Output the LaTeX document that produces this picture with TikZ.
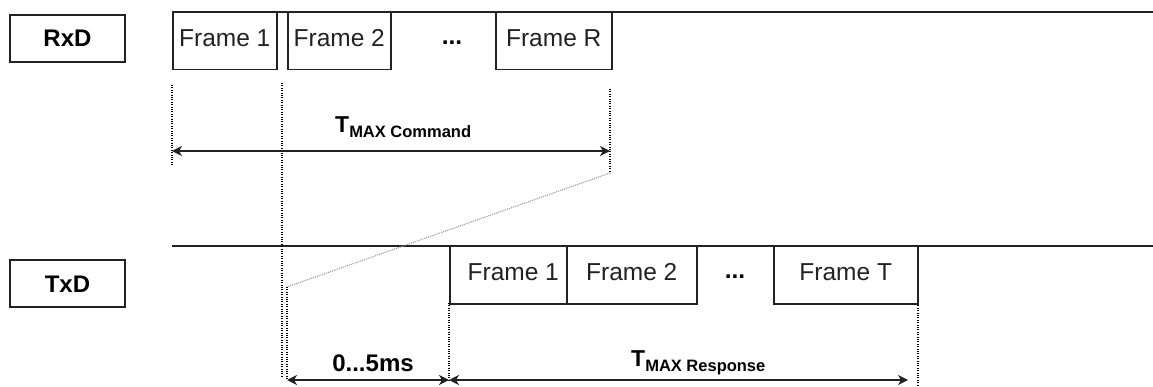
\documentclass[tikz,border=0pt]{standalone}
\usepackage{fontspec}
\setmainfont{Liberation Sans}
\usetikzlibrary{arrows.meta}
\definecolor{ln}{HTML}{222222}
\begin{document}
\begin{tikzpicture}[x=1pt,y=-1pt,
  framebox/.style={draw=ln, line width=1.5pt, inner sep=0pt, minimum height=57pt,
    text height=17pt, text depth=7pt, anchor=north west,
    font=\fontsize{24.5}{24.5}\selectfont, text=ln},
  sigbox/.style={draw=ln, line width=1.5pt, inner sep=0pt, minimum width=115pt,
    minimum height=47pt, text height=17pt, text depth=0pt,
    font=\bfseries\fontsize{24}{24}\selectfont},
  dotsnode/.style={inner sep=0pt, anchor=base, font=\bfseries\fontsize{24.5}{24.5}\selectfont},
  busline/.style={draw=ln, line width=1.5pt},
  guide/.style={draw=black, line width=1.1pt, dash pattern=on 1pt off 1.4pt},
  slant/.style={draw=black!40, line width=1.1pt, dash pattern=on 1pt off 1pt},
  dimline/.style={draw=ln, line width=1.6pt,
    {Stealth[length=10pt,width=10pt,inset=3pt]}-{Stealth[length=10pt,width=10pt,inset=3pt]}},
  biglbl/.style={inner sep=0pt, font=\bfseries\fontsize{23}{23}\selectfont},
]
\useasboundingbox (0,0) rectangle (1153,387);

% signal labels
\node[sigbox] (rxd) at (67.5,38.5) {RxD};
\node[sigbox] (txd) at (67.5,283.5) {TxD};

% bus lines
\coordinate (rxa) at (172,12);
\coordinate (rxb) at (1153,12);
\coordinate (txa) at (172,246);
\coordinate (txb) at (1153,246);
\draw[busline] (rxa) -- (rxb);
\draw[busline] (txa) -- (txb);

% Rx frames
\node[framebox, minimum width=104pt] (r1) at (172,12) {Frame 1};
\node[framebox, minimum width=103pt] (r2) at (287,12) {Frame 2};
\node[dotsnode] (rdots) at (452,45) {...};
\node[framebox, minimum width=116pt] (rR) at (495,12) {Frame R};

% Tx frames
\node[framebox, minimum width=117pt] (t1) at (449,246) {\hspace{10pt}Frame 1};
\node[framebox, minimum width=130pt] (t2) at (566,246) {Frame 2};
\node[dotsnode] (tdots) at (735,279) {...};
\node[framebox, minimum width=144pt] (tT) at (773,246) {Frame T};

% guide coordinates
\coordinate (g1a) at (172,85);  \coordinate (g1b) at (172,166);
\coordinate (g2a) at (282,83);  \coordinate (g2b) at (282,378);
\coordinate (g3a) at (610,89);  \coordinate (g3b) at (610,173);
\coordinate (g3c) at (287,287); \coordinate (g3d) at (287,380);
\coordinate (g4a) at (449,303); \coordinate (g4b) at (449,380);
\coordinate (g5a) at (918,303); \coordinate (g5b) at (918,386);

\draw[guide] (g1a) -- (g1b);
\draw[guide] (g2a) -- (g2b);
\draw[guide] (g3a) -- (g3b);
\draw[slant] (g3b) -- (g3c);
\draw[guide] (g3c) -- (g3d);
\draw[guide] (g4a) -- (g4b);
\draw[guide] (g5a) -- (g5b);

% dimension arrows
\coordinate (c1) at (172,151); \coordinate (c2) at (610,151);
\coordinate (d1) at (287,380); \coordinate (d2) at (449,380); \coordinate (d3) at (908,380);
\draw[dimline] (c1) -- (c2);
\draw[dimline] (d1) -- (d2);
\draw[dimline] (d2) -- (d3);

% labels
\node[biglbl, anchor=base west] (lcmd) at (335,133)
  {T\raisebox{-5pt}{\fontsize{16.5}{16.5}\selectfont MAX Command}};
\node[biglbl, anchor=base, font=\bfseries\fontsize{24}{24}\selectfont] (ldelay) at (373,371) {0...5ms};
\node[biglbl, anchor=base west] (lresp) at (631,366)
  {T\raisebox{-5pt}{\fontsize{16.5}{16.5}\selectfont MAX Response}};
\end{tikzpicture}
\end{document}
